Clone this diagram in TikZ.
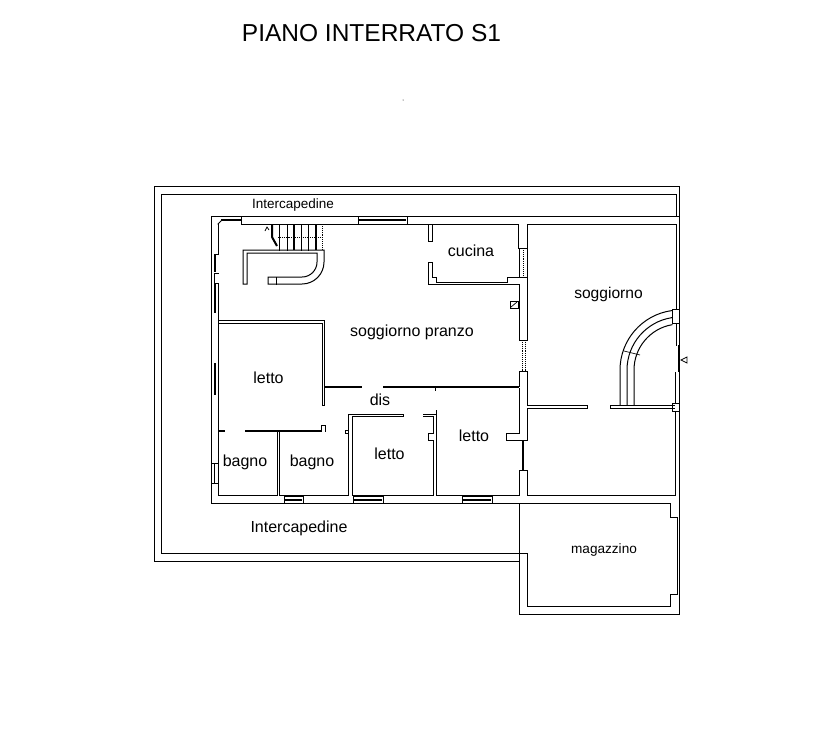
\documentclass[tikz,border=0pt]{standalone}
\usepackage{fontspec}
\setmainfont{Liberation Sans}
\tikzset{
  wall/.style={draw=black,line width=1pt,line cap=rect},
  heavy/.style={draw=black,line width=2pt},
  fine/.style={draw=black,line width=0.7pt},
  dotty/.style={draw=black,line width=0.9pt,densely dotted},
  label/.style={inner sep=0pt,text=black,font=\fontsize{#1}{#1}\selectfont},
  label/.default=14
}
\begin{document}
\begin{tikzpicture}[x=1pt,y=-1pt]
\useasboundingbox (0,0) rectangle (826,737);
\fill[white] (0,0) rectangle (826,737);

% title and labels
\node[label=24.5] (title) at (371.5,33.5) {PIANO INTERRATO S1};
\fill[black] (403,100) circle (0.5);
\node[label=13.5] (gapa) at (293,205.5) {Intercapedine};
\node[label=16] (gapb) at (299,528) {Intercapedine};
\node[label=16] (cucina) at (471,250.5) {cucina};
\node[label=15.6] (sogg) at (608.5,294) {soggiorno};
\node[label=16] (soggp) at (412,332) {soggiorno pranzo};
\node[label=16] (letA) at (268.5,377.5) {letto};
\node[label=16] (dis) at (380,399.5) {dis};
\node[label=16] (bagA) at (245,462) {bagno};
\node[label=16] (bagB) at (312,462) {bagno};
\node[label=16] (letB) at (389.5,454) {letto};
\node[label=16] (letC) at (474,436) {letto};
\node[label=13.6] (mag) at (604,549.5) {magazzino};

% outer retaining wall
\draw[wall] (154,186) -- (679,186) -- (679,345);
\draw[wall] (679,372) -- (679,614) -- (519,614) -- (519,561) -- (154,561) -- (154,186);
\draw[wall] (161,553) -- (161,194) -- (676,194) -- (676,216);
\draw[wall] (161,553) -- (527,553) -- (527,606) -- (670,606) -- (670,594) -- (677,594) -- (677,517) -- (670,517) -- (670,503) -- (519,503) -- (519,561);

% house perimeter
\draw[wall] (211,216) -- (679,216);
\draw[wall] (211,216) -- (211,503) -- (284,503);
\draw[wall] (241,216) -- (241,224) -- (518,224);
\draw[wall] (527,224) -- (676,224) -- (676,309);
\draw[wall] (676,323) -- (676,345);
\draw[heavy] (679,345) -- (679,372);
\draw[wall] (675,372) -- (675,403);
\draw[wall] (675,411) -- (675,495);
\draw[wall] (303,503) -- (670,503);
\draw[wall] (218,224) -- (218,254);
\draw[wall] (218,283) -- (218,495) -- (277,495);
\draw[wall] (218,224) -- (222,220);
\draw[heavy] (221,219.5) -- (241,219.5);

% windows
\draw[wall] (358,216) rectangle (407,224);
\draw[heavy] (359,220) -- (406,220);
\draw[wall] (214,254) -- (218,254);
\draw[heavy] (215,254) -- (215,272);
\draw[wall] (218,273) -- (214,273) -- (214,283) -- (218,283);
\draw[heavy] (215,283) -- (215,313);
\draw[heavy] (215,363) -- (215,395);
\draw[wall] (211,463) rectangle (218,483);
\draw[fine] (214.5,463) -- (214.5,483);
\draw[wall] (284,496) rectangle (303,503);
\draw[heavy] (285,500) -- (302,500);
\draw[wall] (353,496) rectangle (383,503);
\draw[heavy] (354,500) -- (382,500);
\draw[wall] (462,496) rectangle (492,503);
\draw[heavy] (463,500) -- (491,500);
\draw[wall] (519,248) rectangle (527,277);
\draw[dotty] (523,248) -- (523,277);
\draw[dotty] (522,340) -- (522,371);
\draw[dotty] (525,340) -- (525,371);
\draw[heavy] (523,440) -- (523,470);

% central wall
\draw[wall] (518,224) -- (518,248);
\draw[wall] (527,224) -- (527,340) -- (519,340) -- (519,284) -- (428,284) -- (428,262) -- (432,262) -- (432,277) -- (436,277) -- (436,282) -- (507,282) -- (507,277) -- (519,277);
\draw[wall] (428,224) -- (428,241) -- (432,241) -- (432,224);
\draw[wall] (519,371) -- (527,371) -- (527,405) -- (587,405) -- (587,408) -- (527,408) -- (527,440) -- (506,440) -- (506,433) -- (519,433) -- (519,388);
\draw[wall] (519,371) -- (519,386);
\draw[wall] (519,470) -- (527,470) -- (527,495) -- (675,495);
\draw[wall] (519,470) -- (519,495) -- (437,495);

% column with diagonal
\draw[wall] (510,301) rectangle (518,308);
\draw[fine] (511,307) -- (517,302);

% inner partitions
\draw[wall] (218,320) -- (324,320) -- (324,405) -- (322,405) -- (322,323) -- (218,323);
\draw[heavy] (324,387) -- (362,387);
\draw[heavy] (383,387) -- (519,387);
\draw[wall] (435,387) -- (435,390);
\draw[heavy] (218,431) -- (225,431);
\draw[heavy] (245,431) -- (322,431);
\draw[wall] (321,431) -- (321,425) -- (325,425) -- (325,431);
\draw[wall] (277,432) -- (277,495);
\draw[wall] (279,432) -- (279,495) -- (348,495);
\draw[wall] (348,495) -- (348,414) -- (403,414) -- (403,416) -- (352,416) -- (352,495) -- (433,495);
\draw[wall] (423,414) -- (436,414);
\draw[wall] (423,416) -- (433,416) -- (433,433) -- (428,433) -- (428,440) -- (433,440) -- (433,495);
\draw[wall] (436,410) -- (436,495);
\draw[wall] (347,430) -- (345,430) -- (345,433) -- (348,433);

% curved stair on the right
\draw[wall] (610,405) -- (674,405);
\draw[wall] (610,408) -- (610,405);
\draw[wall] (610,408) -- (674,408);
\draw[wall] (672,403) rectangle (679,411);
\draw[wall] (620,405) -- (620,370) arc[start angle=180,end angle=262,radius=60];
\draw[wall] (627,405) -- (627,370) arc[start angle=180,end angle=261,radius=53];
\draw[wall] (634,405) -- (634,370) arc[start angle=180,end angle=260,radius=46];
\draw[fine] (624,351) -- (640,355);
\draw[wall] (672,309) -- (679,309) -- (679,323) -- (672,323) -- cycle;
\draw[fine] (687,357) -- (681,360) -- (687,363) -- cycle;

% main stair
\foreach \tx in {279,287,301,308}{\draw[wall] (\tx,224) -- (\tx,250);}
\foreach \tx in {294,316}{\draw[heavy] (\tx,224) -- (\tx,250);}
\draw[heavy] (272,224) -- (272,237) -- (277,246);
\draw[dotty] (322,224) -- (322,250);
\draw[dotty] (278,237) -- (322,237);
\draw[fine] (265,231) -- (267,227) -- (269,230);
\draw[wall] (243,284) -- (243,250) -- (324,250) -- (324,262) arc[start angle=0,end angle=90,radius=22] -- (268,284) -- (268,277) -- (302,277) arc[start angle=90,end angle=0,radius=15] -- (317,253) -- (247,253) -- (247,284) -- cycle;
\draw[wall] (276,277) -- (276,284);
\end{tikzpicture}
\end{document}
